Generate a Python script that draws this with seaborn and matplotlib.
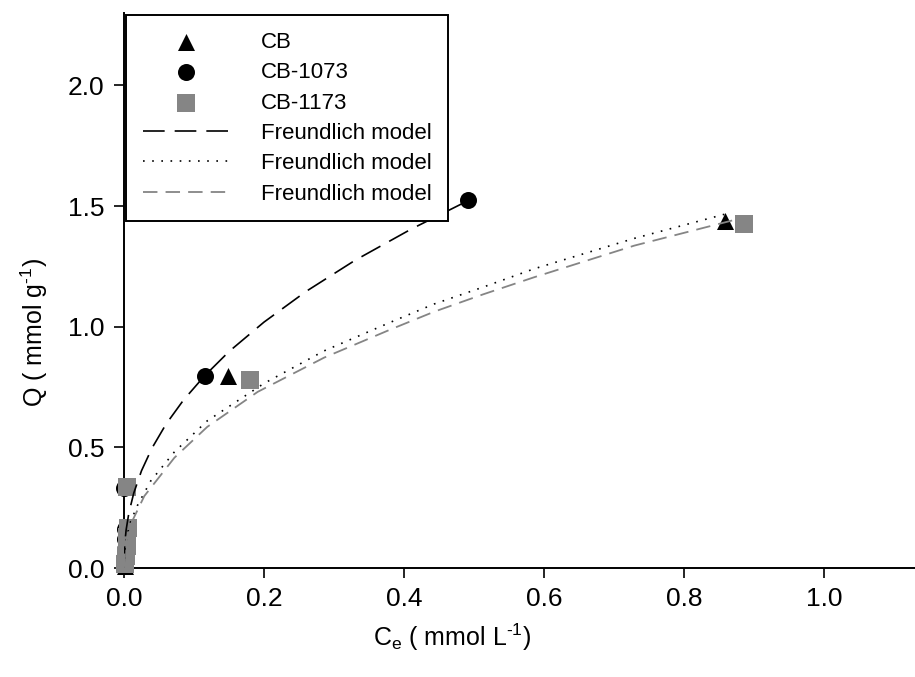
import matplotlib
matplotlib.use("Agg")
import matplotlib.pyplot as plt
import seaborn as sns
import pandas as pd

# ---- data ----
cb_x = [0.001, 0.002, 0.003, 0.004, 0.005, 0.148, 0.858]
cb_y = [0.01, 0.04, 0.08, 0.12, 0.16, 0.797, 1.44]
c1073_x = [0.0003, 0.0006, 0.001, 0.0015, 0.002, 0.0005, 0.116, 0.492]
c1073_y = [0.01, 0.04, 0.08, 0.12, 0.16, 0.33, 0.797, 1.524]
c1173_x = [0.002, 0.003, 0.004, 0.005, 0.006, 0.004, 0.180, 0.885]
c1173_y = [0.015, 0.05, 0.09, 0.13, 0.165, 0.337, 0.781, 1.427]

fit1073_x = [0, 0.001, 0.003, 0.007, 0.014, 0.025, 0.04, 0.06, 0.085, 0.115, 0.15, 0.2, 0.26, 0.33, 0.41, 0.492]
fit1073_y = [0, 0.096, 0.157, 0.229, 0.311, 0.403, 0.497, 0.596, 0.696, 0.796, 0.897, 1.019, 1.146, 1.275, 1.404, 1.523]
fitcb_x = [0, 0.001, 0.004, 0.009, 0.019, 0.038, 0.072, 0.119, 0.2, 0.286, 0.382, 0.443, 0.513, 0.586, 0.729, 0.858]
fitcb_y = [0, 0.070, 0.131, 0.189, 0.258, 0.360, 0.481, 0.610, 0.765, 0.900, 1.020, 1.094, 1.164, 1.240, 1.366, 1.466]
fit1173_x = [0, 0.001, 0.004, 0.012, 0.029, 0.072, 0.119, 0.191, 0.286, 0.382, 0.443, 0.513, 0.586, 0.729, 0.87]
fit1173_y = [0, 0.063, 0.121, 0.196, 0.298, 0.457, 0.585, 0.730, 0.872, 0.990, 1.062, 1.134, 1.205, 1.336, 1.441]

x_ticks = [0.0, 0.2, 0.4, 0.6, 0.8, 1.0]
y_ticks = [0.0, 0.5, 1.0, 1.5, 2.0]
model_label = "Freundlich model"

sns.set_style("ticks")
plt.rcParams['font.family'] = ['Liberation Sans', 'DejaVu Sans']
plt.rcParams['mathtext.default'] = 'regular'
plt.rcParams['mathtext.fontset'] = 'custom'
plt.rcParams['mathtext.rm'] = 'Liberation Sans'
for k in ['text.color', 'axes.labelcolor', 'xtick.color', 'ytick.color', 'axes.edgecolor']:
    plt.rcParams[k] = 'black'

GRAY = "#858585"

fig = plt.figure(figsize=(9.15, 6.77), dpi=100)
ax = fig.add_axes([124 / 915, 109 / 677, 791 / 915, 555 / 677])

pts = pd.DataFrame({
    "x": cb_x + c1073_x + c1173_x,
    "y": cb_y + c1073_y + c1173_y,
    "s": ["CB"] * len(cb_x) + ["CB-1073"] * len(c1073_x) + ["CB-1173"] * len(c1173_x),
})

sns.scatterplot(data=pts[pts.s == "CB"], x="x", y="y", marker="^", s=150, color="black",
                edgecolor="black", linewidth=0, ax=ax, label="CB", clip_on=False, zorder=3)
sns.scatterplot(data=pts[pts.s == "CB-1073"], x="x", y="y", marker="o", s=150, color="black",
                edgecolor="black", linewidth=0, ax=ax, label="CB-1073", clip_on=False, zorder=3)
sns.scatterplot(data=pts[pts.s == "CB-1173"], x="x", y="y", marker="s", s=150, color=GRAY,
                edgecolor=GRAY, linewidth=0, ax=ax, label="CB-1173", clip_on=False, zorder=3)

sns.lineplot(x=fit1073_x, y=fit1073_y, sort=False, estimator=None, color="black", lw=1.2,
             ax=ax, label=model_label, zorder=4)
ax.lines[-1].set_dashes((13, 6))
sns.lineplot(x=fitcb_x, y=fitcb_y, sort=False, estimator=None, color="black", lw=1.2,
             ax=ax, label=model_label, zorder=4)
ax.lines[-1].set_dashes((1, 4.5))
sns.lineplot(x=fit1173_x, y=fit1173_y, sort=False, estimator=None, color=GRAY, lw=1.3,
             ax=ax, label=model_label, zorder=4)
ax.lines[-1].set_dashes((8, 4.5))

ax.set_xlim(0, 1.13)
ax.set_ylim(0, 2.30)
ax.set_xticks(x_ticks)
ax.set_xticklabels([f"{v:.1f}" for v in x_ticks])
ax.set_yticks(y_ticks)
ax.set_yticklabels([f"{v:.1f}" for v in y_ticks])
ax.tick_params(direction="out", length=7, width=1.2, labelsize=19, pad=7,
               color="black", labelcolor="black")
for side in ["top", "right"]:
    ax.spines[side].set_visible(False)
for side in ["left", "bottom"]:
    ax.spines[side].set_linewidth(1.4)
    ax.spines[side].set_color("black")

ax.set_xlabel(r"C$_{e}$ ( mmol L$^{\text{-}1}$)", fontsize=18, color="black")
ax.set_ylabel(r"Q ( mmol g$^{\text{-}1}$)", fontsize=18, color="black")
ax.xaxis.set_label_coords(0.415, -0.097)
ax.yaxis.set_label_coords(-0.093, 0.425)

h, lab = ax.get_legend_handles_labels()
leg = ax.legend(h, lab, loc="upper left", bbox_to_anchor=(0.0, 1.0), borderaxespad=0.1,
                fontsize=16, frameon=True, fancybox=False, edgecolor="black",
                handlelength=3.9, handletextpad=1.4, labelspacing=0.42, borderpad=0.75,
                numpoints=1, markerscale=1.0)
for t in leg.get_texts():
    t.set_color("black")
leg.get_frame().set_linewidth(1.4)
leg.get_frame().set_alpha(1)

fig.savefig("out.png", dpi=100)
